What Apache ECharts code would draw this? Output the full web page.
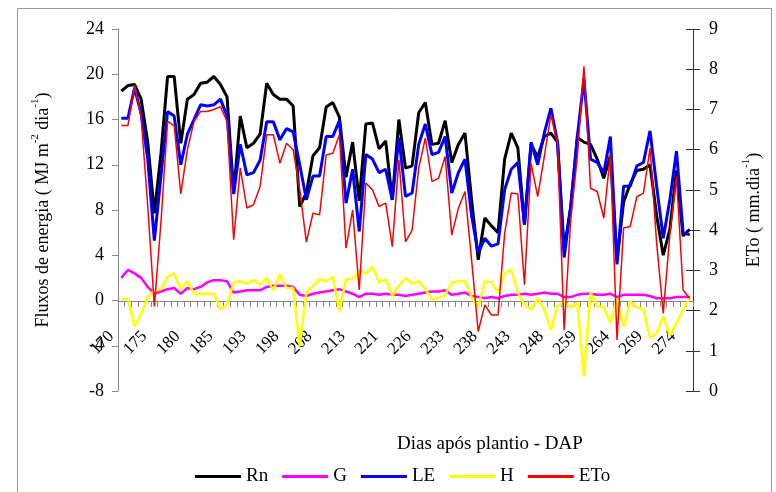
<!DOCTYPE html>
<html>
<head>
<meta charset="utf-8">
<script src="https://cdn.jsdelivr.net/npm/echarts@6/dist/echarts.min.js"></script>
<style>html,body{margin:0;padding:0;background:#fff}#c{width:776px;height:492px}</style>
</head>
<body>
<div id="c"></div>
<script>
const days = [170,171,172,173,174,175,176,177,178,179,180,181,182,183,184,185,
  186,188,190,191,193,194,195,196,197,198,199,201,203,205,208,209,210,211,212,213,
  214,216,218,219,221,222,223,224,225,226,227,228,230,231,233,234,235,236,237,238,
  239,240,241,242,243,244,245,246,247,248,250,252,254,256,259,260,261,262,263,264,
  265,266,267,268,269,270,271,272,273,274,275];

const rn = [18.5,19.0,19.1,17.8,14.0,7.7,13.0,19.8,19.8,13.9,17.8,18.2,19.2,19.3,19.8,19.1,
  18.0,9.5,16.3,13.5,13.9,14.7,19.2,18.2,17.8,17.8,17.2,8.3,9.5,12.8,13.5,17.1,17.5,16.2,10.9,14.0,
  8.8,15.6,15.7,13.4,14.1,8.9,16.0,11.7,11.9,16.6,17.5,13.8,13.9,15.9,12.2,13.8,14.8,8.9,3.6,7.3,
  6.6,6.0,12.5,14.8,13.5,6.7,13.8,12.7,14.5,14.8,14.0,4.5,8.3,14.4,14.0,13.8,12.5,10.8,12.8,3.5,
  8.7,10.3,11.5,11.6,12.0,7.5,4.0,6.3,11.5,5.7,6.3];

const g = [2.0,2.7,2.4,2.0,1.2,0.6,0.8,1.0,1.1,0.6,1.1,1.0,1.2,1.6,1.8,1.8,
  1.7,0.7,0.8,0.9,0.9,0.9,1.2,1.3,1.3,1.3,1.2,0.5,0.4,0.6,0.7,0.8,0.9,1.0,0.8,0.6,
  0.3,0.6,0.6,0.5,0.6,0.5,0.5,0.4,0.5,0.6,0.7,0.8,0.8,0.9,0.5,0.6,0.7,0.4,0.3,0.2,
  0.3,0.2,0.4,0.5,0.5,0.6,0.5,0.6,0.7,0.6,0.6,0.3,0.3,0.5,0.6,0.6,0.5,0.5,0.6,0.3,
  0.5,0.5,0.5,0.5,0.4,0.2,0.2,0.2,0.3,0.3,0.3];

const le = [16.1,16.1,18.8,16.5,12.5,5.3,11.0,16.7,16.3,12.0,14.7,16.0,17.3,17.2,17.3,17.8,
  16.3,9.4,13.8,11.1,11.3,12.4,15.8,15.8,14.2,15.2,14.9,12.0,8.9,11.0,11.0,14.5,14.5,15.9,8.6,11.6,
  6.1,12.9,12.5,11.3,11.6,8.9,14.4,9.2,9.5,13.8,15.6,12.9,13.1,14.5,9.5,11.3,12.5,7.5,4.2,5.5,
  4.8,5.0,9.8,11.6,12.2,6.7,14.0,12.0,14.8,17.0,14.0,3.8,8.3,14.5,19.6,12.5,12.2,11.3,14.5,3.2,
  10.1,10.1,11.9,12.2,15.0,10.1,5.5,8.9,13.2,6.0,5.8];

const h = [0.1,0.1,-2.3,-1.2,0.3,0.9,1.0,2.1,2.4,1.0,1.7,0.6,0.6,0.6,0.6,-0.8,
  -0.4,1.6,1.7,1.5,1.8,1.4,2.0,0.9,2.3,1.1,1.1,-4.0,0.7,1.3,1.9,1.7,2.1,-0.9,1.9,1.9,
  2.6,2.4,3.0,1.6,1.9,0.4,1.3,2.0,1.5,1.7,1.0,0.1,0.2,0.5,1.6,1.7,1.7,0.3,-0.6,1.7,
  1.6,0.7,2.4,2.7,0.7,-0.4,-0.8,0.2,-0.8,-2.6,-0.5,-0.1,-0.6,-0.2,-6.7,0.7,-0.5,-0.6,-2.0,0.2,
  -2.3,-0.1,-0.6,-0.8,-3.3,-2.9,-1.4,-3.1,-2.0,-0.8,0.2];

const eto = [6.6,6.6,7.6,6.8,4.6,2.1,4.2,6.7,6.6,4.9,6.0,6.7,6.95,6.95,7.0,7.07,
  6.7,3.76,5.54,4.55,4.63,5.08,6.37,6.37,5.66,6.16,6.0,5.0,3.7,4.42,4.38,5.87,5.91,6.37,3.55,4.5,
  2.51,5.17,5.0,4.59,4.67,3.59,5.75,3.71,4.0,5.54,6.29,5.21,5.29,5.83,3.88,4.54,4.96,3.26,1.48,2.14,
  1.89,1.89,3.92,4.92,4.9,2.64,5.66,4.83,5.83,6.87,6.16,1.52,4.25,5.83,8.07,5.04,4.96,4.30,5.87,1.27,
  4.05,4.09,4.83,4.92,6.04,3.67,1.93,3.9,5.33,2.51,2.3];

const leftTicks = {min: -8, max: 24, interval: 4};
const rightTicks = {min: 0, max: 9, interval: 1};

const FF = "'Liberation Serif', 'Times New Roman', serif";
const chart = echarts.init(document.getElementById('c'), null, {renderer: 'canvas'});

function lineSeries(name, data, color, width, axis) {
  return {
    name: name, type: 'line', data: data, yAxisIndex: axis,
    showSymbol: false, symbol: 'none', smooth: false,
    lineStyle: {color: color, width: width}, itemStyle: {color: color},
    emphasis: {disabled: true}
  };
}

const option = {
  animation: false,
  backgroundColor: '#fff',
  grid: {left: 118, right: 83, top: 29, bottom: 101},
  xAxis: {
    type: 'category', data: days.map(String), boundaryGap: true, position: 'bottom', offset: -90,
    axisLine: {onZero: false, lineStyle: {color: '#888', width: 1}},
    axisTick: {show: true, interval: 0, length: 6, lineStyle: {color: '#888'}},
    axisLabel: {interval: 4, rotate: 45, margin: 23, padding: [0, 14, 0, 0],
      fontFamily: FF, fontSize: 17, color: '#000'},
    splitLine: {show: false}
  },
  yAxis: [
    {
      type: 'value', position: 'left', min: leftTicks.min, max: leftTicks.max, interval: leftTicks.interval,
      axisLine: {show: true, onZero: false, lineStyle: {color: '#888'}},
      axisTick: {show: true, length: 6, lineStyle: {color: '#888'}},
      axisLabel: {margin: 14, fontFamily: FF, fontSize: 18, color: '#000'},
      splitLine: {show: false},
      name: '{a|Fluxos de energia ( MJ m}{s|-2}{a| dia}{s|-1}{a|)}',
      nameLocation: 'middle', nameRotate: 90, nameGap: 66,
      nameTextStyle: {rich: {
        a: {fontFamily: FF, fontSize: 18, color: '#000', lineHeight: 22, verticalAlign: 'bottom'},
        s: {fontFamily: FF, fontSize: 11, color: '#000', lineHeight: 11, verticalAlign: 'top'}
      }}
    },
    {
      type: 'value', position: 'right', min: rightTicks.min, max: rightTicks.max, interval: rightTicks.interval,
      axisLine: {show: true, onZero: false, lineStyle: {color: '#333'}},
      axisTick: {show: true, length: 7, lineStyle: {color: '#333'}},
      axisLabel: {margin: 16, fontFamily: FF, fontSize: 18, color: '#000'},
      splitLine: {show: false},
      name: '{a|ETo ( mm.dia}{s|-1}{a|)}',
      nameLocation: 'middle', nameRotate: 90, nameGap: 48,
      nameTextStyle: {rich: {
        a: {fontFamily: FF, fontSize: 18, color: '#000', lineHeight: 22, verticalAlign: 'bottom'},
        s: {fontFamily: FF, fontSize: 11, color: '#000', lineHeight: 11, verticalAlign: 'top'}
      }}
    },
    {
      type: 'value', position: 'right', min: rightTicks.min, max: rightTicks.max, interval: rightTicks.interval,
      axisLine: {show: false, onZero: false},
      axisTick: {show: true, inside: true, length: 7, lineStyle: {color: '#333'}},
      axisLabel: {show: false}, splitLine: {show: false}
    }
  ],
  legend: {
    data: ['Rn', 'G', 'LE', 'H', 'ETo'],
    left: 190, top: 462, icon: 'rect', itemWidth: 46, itemHeight: 3, itemGap: 14,
    textStyle: {fontFamily: FF, fontSize: 19, color: '#000'}
  },
  graphic: [
    {type: 'rect', shape: {x: 17.5, y: 8.5, width: 754, height: 495},
      style: {fill: 'none', stroke: '#999', lineWidth: 1}, silent: true, z: -10},
    {type: 'text', left: 397, top: 435, style: {text: 'Dias após plantio - DAP', fontFamily: FF, fontSize: 19,
      fill: '#000', textAlign: 'center', textVerticalAlign: 'middle'}}
  ],
  series: [
    lineSeries('Rn', rn, '#000000', 3, 0),
    lineSeries('G', g, '#FF00FF', 2.5, 0),
    lineSeries('LE', le, '#0000FF', 3, 0),
    lineSeries('H', h, '#FFFF00', 2.5, 0),
    lineSeries('ETo', eto, '#FF0000', 1.5, 1)
  ]
};
chart.setOption(option);
</script>
</body>
</html>
